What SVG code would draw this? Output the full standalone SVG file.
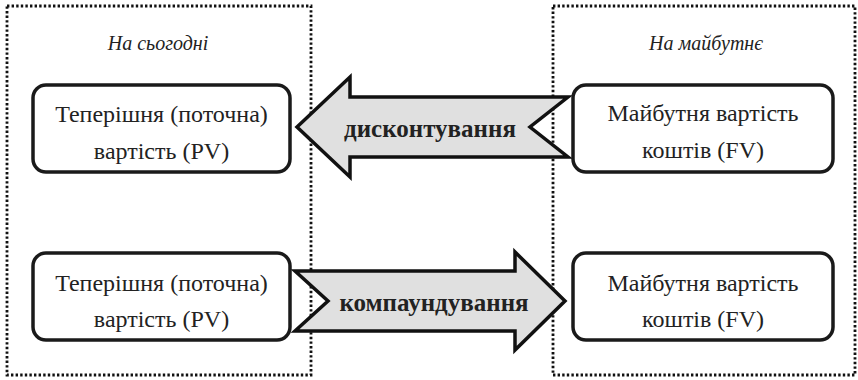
<svg xmlns="http://www.w3.org/2000/svg" width="858" height="380" viewBox="0 0 858 380">
<style>
.frame{fill:none;stroke:#111;stroke-width:2.8;stroke-dasharray:2.4 2.2}
.node rect{fill:#fff;stroke:#1a1a1a;stroke-width:3.5}
.node text{font-size:24px;fill:#222;text-anchor:middle}
.title{font-size:20px;font-style:italic;fill:#222;text-anchor:middle}
.arrow{fill:#e0e0e0;stroke:#111;stroke-width:3.5;stroke-linejoin:miter}
.alabel{font-size:25px;font-weight:bold;fill:#222;text-anchor:middle}
</style>
<rect width="858" height="380" fill="#fff"/>
<rect class="frame" x="7" y="6" width="304" height="369"/>
<rect class="frame" x="553" y="6" width="302" height="369"/>
<g font-family="Liberation Serif, Times New Roman, serif">
<text class="title" x="158" y="50">На сьогодні</text>
<text class="title" x="706" y="50">На майбутнє</text>
<g id="connectors">
<g id="discount">
<polygon class="arrow" points="297,127 350,77 350,97 568,97 530,127 568,157 350,157 350,177"/>
<text class="alabel" x="430" y="137">дисконтування</text>
</g>
<g id="compound">
<polygon class="arrow" points="295,271 515,271 515,252 565,301 515,350 515,331 295,331 328,301"/>
<text class="alabel" x="434" y="311">компаундування</text>
</g>
</g>
<g id="pv-top" class="node">
<rect x="33" y="85" width="257" height="87" rx="13"/>
<text x="161.5" y="122">Теперішня (поточна)</text>
<text x="161.5" y="159">вартість (PV)</text>
</g>
<g id="fv-top" class="node">
<rect x="573" y="85" width="260" height="87" rx="13"/>
<text x="703" y="121">Майбутня вартість</text>
<text x="703" y="158">коштів (FV)</text>
</g>
<g id="pv-bottom" class="node">
<rect x="33" y="253" width="257" height="87" rx="13"/>
<text x="161.5" y="291">Теперішня (поточна)</text>
<text x="161.5" y="327">вартість (PV)</text>
</g>
<g id="fv-bottom" class="node">
<rect x="573" y="253" width="260" height="87" rx="13"/>
<text x="703" y="291">Майбутня вартість</text>
<text x="703" y="327">коштів (FV)</text>
</g>
</g>
</svg>
